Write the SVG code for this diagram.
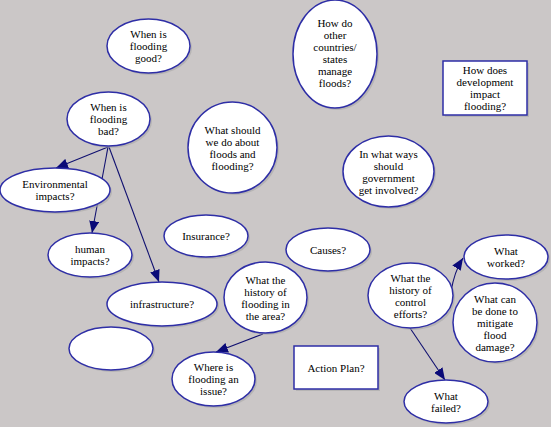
<svg xmlns="http://www.w3.org/2000/svg" width="551" height="427" viewBox="0 0 551 427">
<style>
.n{fill:#fff;stroke:#2e2ea6;stroke-width:1.5}
.sh{fill:#a9a6a6;opacity:0.6}
.t{font-size:11px;fill:#000;text-anchor:middle}
.c{stroke:#101070;stroke-width:1.1;fill:none}
</style>
<defs>
<marker id="ah" viewBox="0 0 12 10" refX="12" refY="5" markerWidth="12" markerHeight="10" markerUnits="userSpaceOnUse" orient="auto">
<path d="M0,0 L12,5 L0,10 z" fill="#0a0a78"/>
</marker>
</defs>
<rect width="551" height="427" fill="#cbc7c7"/>
<g id="connectors">
<line class="c" x1="108" y1="147" x2="56" y2="168" marker-end="url(#ah)"/>
<line class="c" x1="108" y1="147" x2="92" y2="233" marker-end="url(#ah)"/>
<line class="c" x1="109" y1="147" x2="159" y2="282" marker-end="url(#ah)"/>
<line class="c" x1="263" y1="334" x2="216" y2="352" marker-end="url(#ah)"/>
<path class="c" d="M451,292 Q454,272 463,258" marker-end="url(#ah)"/>
<line class="c" x1="410" y1="328" x2="445" y2="380" marker-end="url(#ah)"/>
</g>
<g font-family="'Liberation Serif','DejaVu Serif',serif">
<g id="n1"><ellipse class="sh" cx="150.5" cy="48" rx="41.5" ry="27"/><ellipse class="n" cx="148.5" cy="46" rx="41.5" ry="27"/>
<text class="t" x="148.5" y="38">When is</text><text class="t" x="148.5" y="50">flooding</text><text class="t" x="148.5" y="62">good?</text></g>
<g id="n2"><ellipse class="sh" cx="110.5" cy="121" rx="41.5" ry="27"/><ellipse class="n" cx="108.5" cy="119" rx="41.5" ry="27"/>
<text class="t" x="108.5" y="111">When is</text><text class="t" x="108.5" y="123">flooding</text><text class="t" x="108.5" y="135">bad?</text></g>
<g id="n3"><ellipse class="sh" cx="234.5" cy="149.5" rx="44.5" ry="45.5"/><ellipse class="n" cx="232.5" cy="147.5" rx="44.5" ry="45.5"/>
<text class="t" x="232.5" y="133.5">What should</text><text class="t" x="232.5" y="145.5">we do about</text><text class="t" x="232.5" y="157.5">floods and</text><text class="t" x="232.5" y="169.5">flooding?</text></g>
<g id="n4"><ellipse class="sh" cx="57" cy="192" rx="55" ry="22"/><ellipse class="n" cx="55" cy="190" rx="55" ry="22"/>
<text class="t" x="55" y="188">Environmental</text><text class="t" x="55" y="200">impacts?</text></g>
<g id="n5"><ellipse class="sh" cx="337" cy="56" rx="42" ry="54"/><ellipse class="n" cx="335" cy="54" rx="42" ry="54"/>
<text class="t" x="335" y="27">How do</text><text class="t" x="335" y="39">other</text><text class="t" x="335" y="51">countries/</text><text class="t" x="335" y="63">states</text><text class="t" x="335" y="75">manage</text><text class="t" x="335" y="87">floods?</text></g>
<g id="n6"><rect class="sh" x="445" y="63" width="84" height="54"/><rect class="n" x="443" y="61" width="84" height="54"/>
<text class="t" x="485" y="74">How does</text><text class="t" x="485" y="86">development</text><text class="t" x="485" y="98">impact</text><text class="t" x="485" y="110">flooding?</text></g>
<g id="n7"><ellipse class="sh" cx="390.5" cy="173.5" rx="45.5" ry="35.5"/><ellipse class="n" cx="388.5" cy="171.5" rx="45.5" ry="35.5"/>
<text class="t" x="388.5" y="157.5">In what ways</text><text class="t" x="388.5" y="169.5">should</text><text class="t" x="388.5" y="181.5">government</text><text class="t" x="388.5" y="193.5">get involved?</text></g>
<g id="n8"><ellipse class="sh" cx="92" cy="257" rx="42" ry="22"/><ellipse class="n" cx="90" cy="255" rx="42" ry="22"/>
<text class="t" x="90" y="253">human</text><text class="t" x="90" y="265">impacts?</text></g>
<g id="n9"><ellipse class="sh" cx="208" cy="238" rx="42" ry="21"/><ellipse class="n" cx="206" cy="236" rx="42" ry="21"/>
<text class="t" x="206" y="240">Insurance?</text></g>
<g id="n10"><ellipse class="sh" cx="164" cy="306" rx="55" ry="22"/><ellipse class="n" cx="162" cy="304" rx="55" ry="22"/>
<text class="t" x="162" y="308">infrastructure?</text></g>
<g id="n11"><ellipse class="sh" cx="113" cy="350.5" rx="42" ry="21.5"/><ellipse class="n" cx="111" cy="348.5" rx="42" ry="21.5"/></g>
<g id="n12"><ellipse class="sh" cx="215.5" cy="381" rx="41.5" ry="27"/><ellipse class="n" cx="213.5" cy="379" rx="41.5" ry="27"/>
<text class="t" x="213.5" y="371">Where is</text><text class="t" x="213.5" y="383">flooding an</text><text class="t" x="213.5" y="395">issue?</text></g>
<g id="n13"><ellipse class="sh" cx="267.5" cy="299.5" rx="41.5" ry="35.5"/><ellipse class="n" cx="265.5" cy="297.5" rx="41.5" ry="35.5"/>
<text class="t" x="265.5" y="283.5">What the</text><text class="t" x="265.5" y="295.5">history of</text><text class="t" x="265.5" y="307.5">flooding in</text><text class="t" x="265.5" y="319.5">the area?</text></g>
<g id="n14"><ellipse class="sh" cx="330" cy="251.5" rx="42" ry="21.5"/><ellipse class="n" cx="328" cy="249.5" rx="42" ry="21.5"/>
<text class="t" x="328" y="253.5">Causes?</text></g>
<g id="n15"><ellipse class="sh" cx="412.5" cy="297.5" rx="42.5" ry="32.5"/><ellipse class="n" cx="410.5" cy="295.5" rx="42.5" ry="32.5"/>
<text class="t" x="410.5" y="281.5">What the</text><text class="t" x="410.5" y="293.5">history of</text><text class="t" x="410.5" y="305.5">control</text><text class="t" x="410.5" y="317.5">efforts?</text></g>
<g id="n16"><ellipse class="sh" cx="508" cy="259" rx="42" ry="22"/><ellipse class="n" cx="506" cy="257" rx="42" ry="22"/>
<text class="t" x="506" y="255">What</text><text class="t" x="506" y="267">worked?</text></g>
<g id="n17"><ellipse class="sh" cx="497" cy="324.5" rx="42" ry="39.5"/><ellipse class="n" cx="495" cy="322.5" rx="42" ry="39.5"/>
<text class="t" x="495" y="302.5">What can</text><text class="t" x="495" y="314.5">be done to</text><text class="t" x="495" y="326.5">mitigate</text><text class="t" x="495" y="338.5">flood</text><text class="t" x="495" y="350.5">damage?</text></g>
<g id="n18"><rect class="sh" x="296" y="348" width="84" height="43"/><rect class="n" x="294" y="346" width="84" height="43"/>
<text class="t" x="336" y="371.5">Action Plan?</text></g>
<g id="n19"><ellipse class="sh" cx="448" cy="403.5" rx="42" ry="21.5"/><ellipse class="n" cx="446" cy="401.5" rx="42" ry="21.5"/>
<text class="t" x="446" y="399.5">What</text><text class="t" x="446" y="411.5">failed?</text></g>
</g>
</svg>
